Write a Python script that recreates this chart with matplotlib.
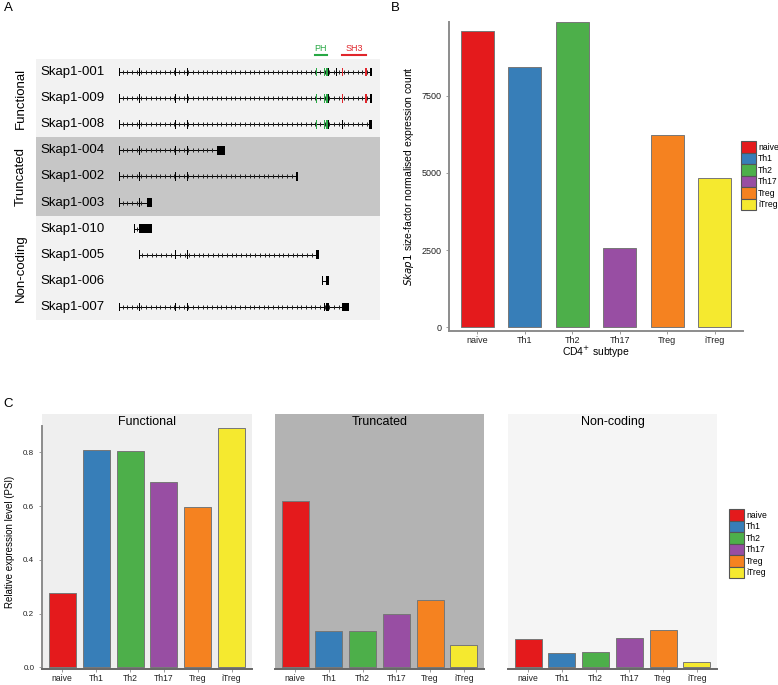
import numpy as np
import matplotlib.pyplot as plt
from matplotlib.patches import Rectangle, Patch

plt.rcParams['font.family'] = ['Liberation Sans', 'DejaVu Sans']

W, H = 778, 685

# ---- data ----
subtypes = ['naive', 'Th1', 'Th2', 'Th17', 'Treg', 'iTreg']
colors = ['#E41A1C', '#377EB8', '#4DAF4A', '#984EA3', '#F58220', '#F5E92F']

skap1_counts = [9610, 8430, 9890, 2560, 6225, 4850]

psi_functional = [0.275, 0.81, 0.805, 0.69, 0.595, 0.89]
psi_truncated = [0.62, 0.134, 0.134, 0.198, 0.25, 0.083]
psi_noncoding = [0.104, 0.053, 0.058, 0.109, 0.14, 0.019]

transcripts = ['Skap1-001', 'Skap1-009', 'Skap1-008', 'Skap1-004', 'Skap1-002',
               'Skap1-003', 'Skap1-010', 'Skap1-005', 'Skap1-006', 'Skap1-007']
transcript_groups = ['Functional', 'Truncated', 'Non-coding']
group_sizes = [3, 3, 4]

# exons as (start, end, domain) along the locus (relative units)
exons = {
    'Skap1-001': [(0, 1.3, ''), (20, 21, ''), (55.7, 56.3, ''), (68, 69, ''),
                  (196.5, 198, 'PH'), (204.8, 205.8, 'PH'), (207.2, 208.2, 'PH'),
                  (209, 210, ''), (216.6, 217.4, ''), (222.9, 223.9, 'SH3'),
                  (246.2, 247.2, 'SH3'), (250.8, 252.8, '')],
    'Skap1-009': [(0, 1.3, ''), (20, 21, ''), (55.7, 56.3, ''), (68, 69, ''),
                  (196.5, 198, 'PH'), (204.8, 205.8, 'PH'), (207.2, 208.2, 'PH'),
                  (209, 210, ''), (222.9, 223.9, 'SH3'),
                  (246.2, 247.2, 'SH3'), (250.8, 252.8, '')],
    'Skap1-008': [(0, 1.3, ''), (20, 21, ''), (55.7, 56.3, ''), (68, 69, ''),
                  (196.5, 198, 'PH'), (204.8, 205.8, 'PH'), (207.2, 208.2, 'PH'),
                  (209, 210, ''), (222.9, 223.9, ''), (250.3, 253, '')],
    'Skap1-004': [(0, 1.3, ''), (20, 21, ''), (55.7, 56.3, ''), (68, 69, ''),
                  (98.3, 106.3, '')],
    'Skap1-002': [(0, 1.3, ''), (20, 21, ''), (55.7, 56.3, ''), (68, 69, ''),
                  (177, 178.6, '')],
    'Skap1-003': [(0, 1.3, ''), (20, 21, ''), (27.7, 32.7, '')],
    'Skap1-010': [(15, 15.8, ''), (20, 20.8, ''), (21.3, 33, '')],
    'Skap1-005': [(20, 21, ''), (55.7, 56.3, ''), (68, 69, ''), (197, 200, '')],
    'Skap1-006': [(203, 204.3, ''), (206.8, 209.5, '')],
    'Skap1-007': [(0, 1.3, ''), (20, 21, ''), (55.7, 56.3, ''), (68, 69, ''),
                  (204.8, 205.8, ''), (207.2, 208.2, ''), (209, 210, ''),
                  (222.7, 230.3, '')],
}
domains = {'PH': (196, 207.7, '#27A844'), 'SH3': (223, 247, '#E0252B')}
band_colors = ['#F2F2F2', '#C6C6C6', '#F2F2F2']


def rect(x0, y0, x1, y1):
    return [x0 / W, 1 - y1 / H, (x1 - x0) / W, (y1 - y0) / H]


fig = plt.figure(figsize=(W / 100, H / 100), dpi=100)

# ---- panel A: transcript structures ----
ax_a = fig.add_axes(rect(36, 59, 380, 320))
ax_a.set_xlim(-83, 261)
ax_a.set_ylim(len(transcripts) - 0.5, -0.5)
ax_a.axis('off')

start = 0
for g, n, bc in zip(transcript_groups, group_sizes, band_colors):
    ax_a.axhspan(start - 0.5, start + n - 0.5, color=bc, lw=0, zorder=0)
    ax_a.text(-98, start + (n - 1) / 2, g, rotation=90, ha='center', va='center',
              fontsize=9.5, clip_on=False)
    start += n

ex_h = 0.34
for i, name in enumerate(transcripts):
    ax_a.text(-79, i, name, ha='left', va='center', fontsize=9.5)
    ex = exons[name]
    x0, x1 = ex[0][1], ex[-1][0]
    ax_a.plot([x0, x1], [i, i], color='black', lw=0.7, zorder=2)
    chev = np.arange(x0 + 2.3, x1 - 1, 4.7)
    ax_a.plot(chev, np.full_like(chev, i), ls='none', marker='|', ms=3,
              mew=0.7, color='#222222', zorder=2)
    for s, e, d in ex:
        c = domains[d][2] if d else 'black'
        w = max(e - s, 1.4)
        ax_a.add_patch(Rectangle((s, i - ex_h / 2), w, ex_h, facecolor=c,
                                 edgecolor='none', zorder=3))

for d, (s, e, c) in domains.items():
    ax_a.plot([s, e], [-0.66, -0.66], color=c, lw=1.5, clip_on=False)
    ax_a.text((s + e) / 2, -0.72, d, color=c, ha='center', va='bottom',
              fontsize=6.5, clip_on=False)

fig.text(4 / W, 1 - 2 / H, 'A', ha='left', va='top', fontsize=9.5)
fig.text(391 / W, 1 - 2 / H, 'B', ha='left', va='top', fontsize=9.5)
fig.text(3 / W, 1 - 398 / H, 'C', ha='left', va='top', fontsize=9.5)

x = np.arange(1, len(subtypes) + 1)
axis_grey = '#8C8C8C'


def style_axes(ax, show_y=True):
    for s in ['top', 'right']:
        ax.spines[s].set_visible(False)
    ax.spines['bottom'].set_color(axis_grey)
    ax.spines['bottom'].set_linewidth(1.4)
    ax.spines['left'].set_color(axis_grey)
    ax.spines['left'].set_linewidth(1.4)
    ax.tick_params(colors=axis_grey, length=2, width=0.6, labelcolor='#222222')
    if not show_y:
        ax.spines['left'].set_visible(False)
        ax.tick_params(axis='y', left=False, labelleft=False)


# ---- panel B ----
ax_b = fig.add_axes(rect(449, 22, 743, 331))
ax_b.bar(x, skap1_counts, width=0.7, color=colors, edgecolor='#777777', linewidth=0.7)
ax_b.set_xlim(0.4, 6.6)
ax_b.set_ylim(-120, 9890)
ax_b.set_yticks([0, 2500, 5000, 7500])
ax_b.set_xticks(x)
ax_b.set_xticklabels(subtypes)
style_axes(ax_b)
ax_b.tick_params(axis='y', labelsize=6.5)
ax_b.tick_params(axis='x', labelsize=6.5, pad=1.5)
ax_b.set_xlabel('CD4$^{+}$ subtype', fontsize=7.5, labelpad=0)
ax_b.set_ylabel('$\\it{Skap1}$ size-factor normalised expression count', fontsize=7.5,
                labelpad=4)

handles = [Patch(facecolor=c, edgecolor='#555555', linewidth=0.8) for c in colors]
leg_kw = dict(loc='upper left', frameon=False, fontsize=6.2, handlelength=1.75,
              handleheight=1.68, labelspacing=0, handletextpad=0.25,
              borderpad=0, borderaxespad=0)
fig.legend(handles, subtypes, bbox_to_anchor=(741 / W, 1 - 141 / H), **leg_kw)

# ---- panel C ----
panels = [('Functional', psi_functional, '#EFEFEF', 42, 252),
          ('Truncated', psi_truncated, '#B3B3B3', 275, 484),
          ('Non-coding', psi_noncoding, '#F5F5F5', 508, 717)]
for k, (title, vals, bg, x0, x1) in enumerate(panels):
    ax = fig.add_axes(rect(x0, 414, x1, 669))
    ax.set_facecolor(bg)
    ax.bar(x, vals, width=0.8, color=colors, edgecolor='#777777', linewidth=0.7)
    ax.set_xlim(0.4, 6.6)
    ax.set_ylim(-0.0063, 0.9426)
    ax.set_xticks(x)
    ax.set_xticklabels(subtypes)
    ax.set_yticks([0, 0.2, 0.4, 0.6, 0.8])
    style_axes(ax, show_y=(k == 0))
    ax.spines['bottom'].set_color('#666666')
    ax.tick_params(axis='x', labelsize=6.2, pad=1.5)
    ax.tick_params(axis='y', labelsize=5.8)
    ax.text(0.5, 0.968, title, transform=ax.transAxes, ha='center', va='center',
            fontsize=9)
    if k == 0:
        ax.spines['left'].set_bounds(-0.0063, 0.898)
        ax.set_ylabel('Relative expression level (PSI)', fontsize=7, labelpad=6)

fig.legend(handles, subtypes, bbox_to_anchor=(729 / W, 1 - 509 / H), **leg_kw)

fig.savefig('out.png', dpi=100)
